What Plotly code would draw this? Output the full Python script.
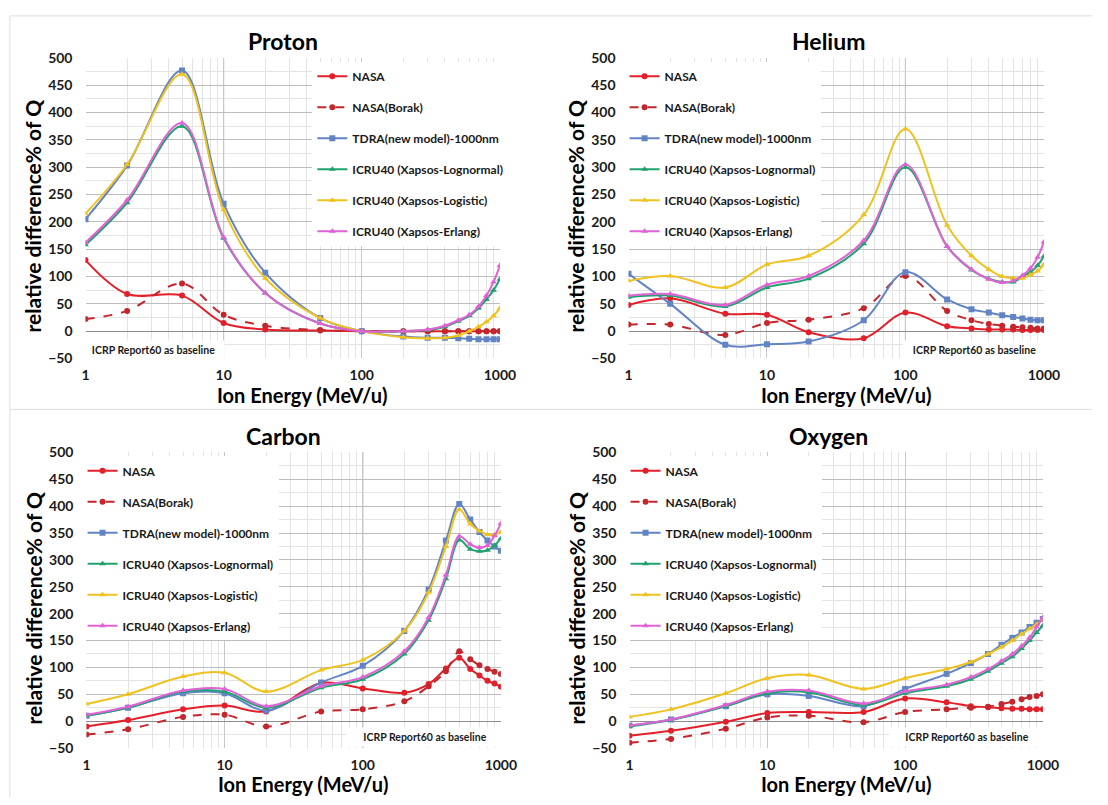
import plotly.graph_objects as go

W, H = 1108, 805

energy = [1, 2, 5, 10, 20, 50, 100, 200, 300, 400, 500, 600, 700, 800, 900, 1000]

series_names = ["NASA", "NASA(Borak)", "TDRA(new model)-1000nm",
                "ICRU40 (Xapsos-Lognormal)", "ICRU40 (Xapsos-Logistic)",
                "ICRU40 (Xapsos-Erlang)"]

# ---- Proton ----
proton_nasa = [130, 68, 65, 15, 3, 1, 0, 0, 0, 0, 0, 0, 0, 0, 0, 0]
proton_borak = [22, 37, 87, 30, 10, 2, 0, 0, 0, 0, 0, 0, 0, 0, 0, 0]
proton_tdra = [205, 303, 477, 233, 107, 24, 0, -10, -12, -12, -13, -14, -15, -15, -15, -15]
proton_logn = [158, 235, 375, 170, 70, 14, 0, 0, 2, 8, 18, 28, 42, 58, 75, 95]
proton_logi = [215, 305, 470, 222, 97, 24, 0, -11, -13, -12, -8, 0, 8, 17, 28, 42]
proton_erl = [162, 240, 381, 172, 70, 14, 0, 0, 3, 10, 20, 30, 45, 65, 90, 120]

# ---- Helium ----
helium_nasa = [48, 60, 32, 30, -2, -13, 34, 9, 5, 3, 3, 3, 2, 2, 2, 2]
helium_borak = [12, 12, -7, 15, 21, 42, 101, 37, 20, 13, 10, 8, 7, 6, 5, 5]
helium_tdra = [105, 50, -25, -24, -19, 20, 108, 58, 40, 34, 29, 26, 23, 21, 20, 20]
helium_logn = [62, 65, 45, 80, 96, 160, 300, 155, 112, 96, 90, 90, 100, 108, 120, 137]
helium_logi = [92, 101, 80, 122, 138, 213, 370, 194, 138, 113, 100, 97, 97, 103, 110, 122]
helium_erl = [65, 68, 48, 85, 101, 166, 305, 155, 113, 95, 89, 92, 102, 115, 135, 163]

# ---- Carbon ----
carbon_nasa = [-10, 2, 22, 29, 18, 71, 61, 53, 69, 98, 118, 97, 85, 75, 70, 64]
carbon_borak = [-25, -15, 8, 12, -10, 18, 22, 37, 65, 93, 130, 115, 104, 97, 92, 88]
carbon_tdra = [10, 25, 52, 52, 20, 72, 103, 168, 245, 336, 404, 375, 352, 336, 325, 317]
carbon_logn = [10, 25, 55, 55, 25, 62, 78, 125, 188, 265, 337, 320, 316, 318, 327, 340]
carbon_logi = [32, 50, 83, 90, 55, 95, 114, 168, 240, 325, 394, 367, 354, 347, 347, 352]
carbon_erl = [12, 27, 57, 60, 28, 65, 82, 130, 193, 272, 344, 329, 323, 327, 345, 368]

# ---- Oxygen ----
oxygen_nasa = [-27, -18, -1, 15, 17, 17, 42, 35, 28, 26, 24, 23, 23, 22, 22, 22]
oxygen_borak = [-40, -33, -14, 7, 10, -2, 17, 22, 25, 27, 32, 36, 41, 45, 47, 50]
oxygen_tdra = [-8, 3, 28, 50, 47, 28, 60, 88, 108, 125, 142, 155, 165, 175, 183, 190]
oxygen_logn = [-10, 2, 28, 52, 54, 30, 52, 65, 78, 93, 108, 120, 135, 150, 165, 178]
oxygen_logi = [8, 22, 52, 80, 86, 60, 80, 97, 110, 125, 138, 150, 162, 172, 180, 190]
oxygen_erl = [-8, 3, 30, 55, 57, 33, 55, 68, 82, 97, 112, 125, 140, 155, 175, 193]

panel_titles = ["Proton", "Helium", "Carbon", "Oxygen"]
panel_data = [
    [proton_nasa, proton_borak, proton_tdra, proton_logn, proton_logi, proton_erl],
    [helium_nasa, helium_borak, helium_tdra, helium_logn, helium_logi, helium_erl],
    [carbon_nasa, carbon_borak, carbon_tdra, carbon_logn, carbon_logi, carbon_erl],
    [oxygen_nasa, oxygen_borak, oxygen_tdra, oxygen_logn, oxygen_logi, oxygen_erl],
]

x_ticks = [1, 10, 100, 1000]
x_tick_text = ["1", "10", "100", "1000"]
x_minor = [2, 3, 4, 5, 6, 7, 8, 9, 20, 30, 40, 50, 60, 70, 80, 90,
           200, 300, 400, 500, 600, 700, 800, 900]

colors = ["#E3202A", "#C4262E", "#6284C4", "#1FA36E", "#EFC21F", "#E062D6"]
dashes = ["solid", "dash", "solid", "solid", "solid", "solid"]
symbols = ["circle", "circle", "square", "triangle-up", "triangle-up", "triangle-up"]
msizes = [6, 6, 6, 6, 6, 6]

FONT = "Lato"


def px(x):
    return min(max(x / W, 0), 1)


def py(y):
    return min(max(1 - y / H, 0), 1)


# plot area pixel boxes (left, right, top, bottom)
boxes = [
    (83, 505, 50, 357),
    (636, 1059, 50, 357),
    (84, 506, 453, 755),
    (637, 1058, 453, 755),
]
legend_pos = [(314, 54), (632, 54), (80, 457), (633, 457)]
baseline_pos = [(152, 348, 139), (988, 348, 141), (429, 744, 154), (981, 744, 152)]
axis_cross = [10, 100, 100, None]

fig = go.Figure()
layout = {}
annotations = []
shapes = []

for i in range(4):
    sfx = "" if i == 0 else str(i + 1)
    xa, ya = "x" + sfx, "y" + sfx
    lg = "legend" + sfx
    for j in range(6):
        fig.add_trace(go.Scatter(
            x=energy, y=panel_data[i][j], name=series_names[j],
            mode="lines+markers",
            line=dict(color=colors[j], width=2, dash=dashes[j], shape="spline", smoothing=1.0),
            marker=dict(symbol=symbols[j], size=msizes[j], color=colors[j]),
            xaxis=xa, yaxis=ya, legend=lg, legendgroup=f"p{i}s{j}",
        ))
    l, r, t, b = boxes[i]
    layout["xaxis" + sfx] = dict(
        type="log", range=[0, 3], domain=[px(l), px(r)], anchor=ya,
        tickvals=x_ticks, ticktext=x_tick_text,
        tickfont=dict(family=FONT, size=14, color="#1a1a1a", weight="bold"),
        showgrid=True, gridcolor="#C8C8C8", gridwidth=1,
        minor=dict(tickvals=x_minor, showgrid=True, gridcolor="#E4E4E4", gridwidth=1),
        showline=False, zeroline=False, ticks="", ticklabelstandoff=7,
        fixedrange=True,
    )
    layout["yaxis" + sfx] = dict(
        range=[-50, 500], domain=[py(b), py(t)], anchor=xa,
        tick0=0, dtick=50,
        tickfont=dict(family=FONT, size=14, color="#1a1a1a", weight="bold"),
        showgrid=True, gridcolor="#BDBDBD", gridwidth=1,
        minor=dict(dtick=25, showgrid=True, gridcolor="#E4E4E4", gridwidth=1),
        zeroline=True, zerolinecolor="#8C8C8C", zerolinewidth=1,
        showline=False, ticks="", ticklabelstandoff=12, fixedrange=True,
    )
    lx, ly = legend_pos[i]
    layout[lg] = dict(
        x=px(lx), y=py(ly), xanchor="left", yanchor="top",
        bgcolor="white", borderwidth=0,
        font=dict(family=FONT, size=12, color="#1a1a1a", weight="bold"),
        itemwidth=30, tracegroupgap=12, traceorder="grouped",
        itemclick=False, itemdoubleclick=False,
    )
    # panel title
    cx = (l + r) / 2
    annotations.append(dict(
        text=panel_titles[i], x=px(cx - 10 if i in (0, 2) else cx - 8), y=py(t - 17),
        xref="paper", yref="paper", showarrow=False, xanchor="center", yanchor="middle",
        font=dict(family=FONT, size=23, color="black", weight="bold"),
    ))
    # x-axis title
    annotations.append(dict(
        text="Ion Energy (MeV/u)", x=px(cx + 10), y=py(b + 37),
        xref="paper", yref="paper", showarrow=False, xanchor="center", yanchor="middle",
        font=dict(family=FONT, size=20, color="black", weight="bold"),
    ))
    # y-axis title
    annotations.append(dict(
        text="relative difference% of Q", x=px(l - 54), y=py((t + b) / 2 + 8),
        xref="paper", yref="paper", showarrow=False, xanchor="center", yanchor="middle",
        textangle=-90,
        font=dict(family=FONT, size=21, color="black", weight="bold"),
    ))
    # baseline note
    bx, by, bw = baseline_pos[i]
    annotations.append(dict(
        text="ICRP Report60 as baseline", x=px(bx), y=py(by),
        xref="paper", yref="paper", showarrow=False, xanchor="center", yanchor="middle",
        bgcolor="white", width=bw, height=16, borderpad=1,
        font=dict(family=FONT, size=10.5, color="#1a1a1a", weight="bold"),
    ))
    if axis_cross[i] is not None:
        shapes.append(dict(
            type="line", xref=xa, yref=ya + " domain", x0=axis_cross[i], x1=axis_cross[i],
            y0=0, y1=1, line=dict(color="#8C8C8C", width=1), layer="below",
        ))

# chart-area borders
shapes += [
    dict(type="line", xref="paper", yref="paper", x0=px(6), x1=1, y0=py(7), y1=py(7),
         line=dict(color="#DDDDDD", width=1)),
    dict(type="line", xref="paper", yref="paper", x0=px(6), x1=1, y0=py(409), y1=py(409),
         line=dict(color="#DDDDDD", width=1)),
    dict(type="line", xref="paper", yref="paper", x0=px(6), x1=px(6), y0=0, y1=py(7),
         line=dict(color="#DDDDDD", width=1)),
]

fig.update_layout(
    width=W, height=H, margin=dict(l=0, r=0, t=0, b=0),
    paper_bgcolor="white", plot_bgcolor="white",
    annotations=annotations, shapes=shapes, showlegend=True,
    **layout,
)

fig.write_html("out.html", config={"displayModeBar": False})
